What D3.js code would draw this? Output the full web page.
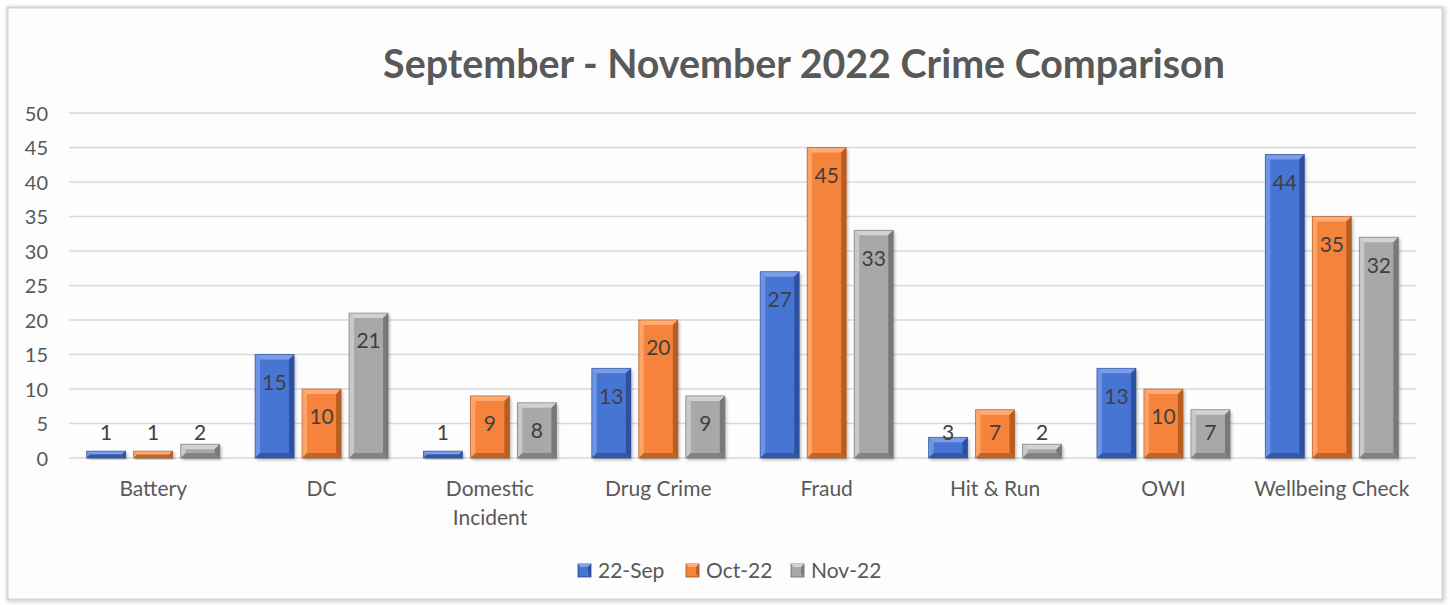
<!DOCTYPE html>
<html><head><meta charset="utf-8">
<script src="https://cdn.jsdelivr.net/npm/d3@7/dist/d3.min.js"></script>
<style>
html,body{margin:0;padding:0;background:#fff;}
svg{display:block;}
text{font-family:Lato,"Open Sans",sans-serif;fill:#595959;}
</style></head>
<body>
<svg id="chart" width="1450" height="605"></svg>
<script>
const categories = ["Battery","DC","Domestic Incident","Drug Crime","Fraud","Hit & Run","OWI","Wellbeing Check"];
const seriesNames = ["22-Sep","Oct-22","Nov-22"];
const sep22 = [1,15,1,13,27,3,13,44];
const oct22 = [1,10,9,20,45,7,10,35];
const nov22 = [2,21,8,9,33,2,7,32];
const yTicks = [0,5,10,15,20,25,30,35,40,45,50];
const title = "September - November 2022 Crime Comparison";

(function(){
const seriesValues = [sep22, oct22, nov22];
const colors = ["#4674D4","#F5833A","#A8A8A8"];
const light = ["#7FA2EA","#FFB07A","#D6D6D6"];
const dark = ["#24468F","#A4501A","#6A6A6A"];

const svg = d3.select("#chart");
const defs = svg.append("defs");
const f = defs.append("filter").attr("id","shadow").attr("x","-10%").attr("y","-10%").attr("width","130%").attr("height","130%");
f.append("feDropShadow").attr("dx",1.5).attr("dy",2).attr("stdDeviation",1.8).attr("flood-color","#000").attr("flood-opacity",0.3);
const ff = defs.append("filter").attr("id","frameShadow").attr("x","-5%").attr("y","-5%").attr("width","110%").attr("height","110%");
ff.append("feDropShadow").attr("dx",1).attr("dy",1).attr("stdDeviation",2).attr("flood-color","#000").attr("flood-opacity",0.25);

svg.append("rect").attr("x",7.5).attr("y",7.5).attr("width",1435).attr("height",592)
  .attr("fill","#fdfdfd").attr("stroke","#d4d4d4").attr("stroke-width",2).attr("filter","url(#frameShadow)");

const pL = 69, pR = 1416, pT = 113, pB = 458;
const x = d3.scaleBand().domain(categories).range([pL,pR]).paddingInner(0).paddingOuter(0);
const y = d3.scaleLinear().domain([0,50]).range([pB,pT]);
const inner = d3.scaleBand().domain(d3.range(3)).range([0,x.bandwidth()]).paddingInner(0.17).paddingOuter(0.376);

svg.append("g").selectAll("line").data(yTicks).join("line")
  .attr("x1",pL).attr("x2",pR).attr("y1",d=>y(d)).attr("y2",d=>y(d))
  .attr("stroke","#d9d9d9").attr("stroke-width",1.5);

const yAxis = d3.axisLeft(y).tickValues(yTicks).tickSize(0).tickPadding(0);
const yg = svg.append("g").attr("transform","translate(48,0)").call(yAxis);
yg.select(".domain").remove();
yg.selectAll("text").style("font-size","20px").style("fill","#595959").style("font-family","Lato, sans-serif").attr("dy","0.35em");

const t = svg.append("text").attr("x",804).attr("y",78).attr("text-anchor","middle")
  .style("font-weight","bold").style("font-size","38px").style("fill","#595959").text(title);
const tw = t.node().getComputedTextLength();
t.style("font-size",(38*842/tw)+"px");

const barData = [];
categories.forEach((c,i)=>{
  seriesValues.forEach((vals,s)=>{ barData.push({c, s, v: vals[i]}); });
});
const bars = svg.append("g").selectAll("g.bar").data(barData).join("g").attr("class","bar");
const bev = 5;
bars.each(function(d){
  const g = d3.select(this);
  const x0 = x(d.c) + inner(d.s), w = inner.bandwidth();
  const y0 = y(d.v), h = y(0) - y(d.v);
  const b = Math.min(bev, h/2, w/2);
  g.append("rect").attr("x",x0).attr("y",y0).attr("width",w).attr("height",h)
    .attr("fill",colors[d.s]).attr("filter","url(#shadow)");
  g.append("polygon").attr("points",[[x0,y0],[x0+w,y0],[x0+w-b,y0+b],[x0+b,y0+b]].join(" ")).attr("fill",light[d.s]).attr("opacity",0.9);
  g.append("polygon").attr("points",[[x0,y0],[x0+b,y0+b],[x0+b,y0+h-b],[x0,y0+h]].join(" ")).attr("fill",light[d.s]).attr("opacity",0.7);
  g.append("polygon").attr("points",[[x0+w,y0],[x0+w,y0+h],[x0+w-b,y0+h-b],[x0+w-b,y0+b]].join(" ")).attr("fill",dark[d.s]).attr("opacity",0.75);
  g.append("polygon").attr("points",[[x0,y0+h],[x0+w,y0+h],[x0+w-b,y0+h-b],[x0+b,y0+h-b]].join(" ")).attr("fill",dark[d.s]).attr("opacity",0.6);
  g.append("rect").attr("x",x0).attr("y",y0).attr("width",w).attr("height",h)
    .attr("fill","none").attr("stroke",dark[d.s]).attr("stroke-width",0.8).attr("opacity",0.7);
});

svg.append("g").selectAll("text").data(barData).join("text")
  .attr("x",d=>x(d.c)+inner(d.s)+inner.bandwidth()/2)
  .attr("y",d=>Math.min(y(d.v)+28, 433))
  .attr("dy","0.35em").attr("text-anchor","middle")
  .style("font-size","21px").style("fill","#404040").text(d=>d.v);

const xl = svg.append("g").selectAll("text").data(categories).join("text")
  .attr("y",489).attr("text-anchor","middle").style("font-size","21px").style("fill","#595959");
xl.each(function(d){
  const el = d3.select(this);
  const words = d==="Domestic Incident" ? ["Domestic","Incident"] : [d];
  words.forEach((w,i)=>{
    el.append("tspan").attr("x",x(d)+x.bandwidth()/2).attr("dy", i===0 ? "0.35em" : "1.38em").text(w);
  });
});

const legX = [578, 686, 791];
const lg = svg.append("g").selectAll("g").data(seriesNames).join("g")
  .attr("transform",(d,i)=>`translate(${legX[i]},564)`);
lg.append("rect").attr("width",13).attr("height",13).attr("fill",(d,i)=>colors[i]).attr("stroke",(d,i)=>dark[i]).attr("stroke-width",0.8);
lg.append("polygon").attr("points","0,0 13,0 10,3 3,3").attr("fill",(d,i)=>light[i]);
lg.append("polygon").attr("points","13,0 13,13 10,10 10,3").attr("fill",(d,i)=>dark[i]).attr("opacity",0.7);
lg.append("text").attr("x",20).attr("y",7).attr("dy","0.35em").style("font-size","21px").style("fill","#595959").text(d=>d);
})();
</script>
</body></html>
